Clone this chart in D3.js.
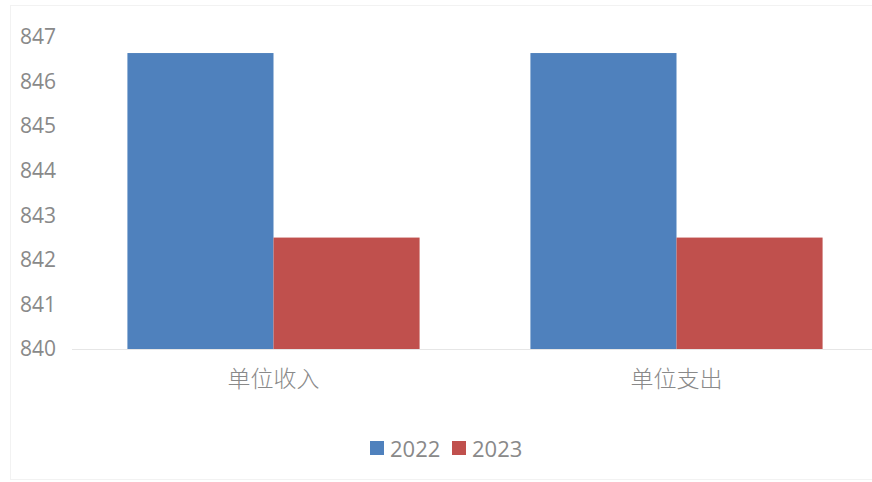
<!DOCTYPE html>
<html>
<head>
<meta charset="utf-8">
<script src="https://cdn.jsdelivr.net/npm/d3@7"></script>
<style>
  body { margin: 0; background: #fff; }
  svg { display: block; }
</style>
</head>
<body>
<div class="graph-container"></div>
<script>
// chart data
const categories = ['单位收入', '单位支出'];
const series = ['2022', '2023'];
const values2022 = [846.64, 846.64];
const values2023 = [842.5, 842.5];
const yTicks = [840, 841, 842, 843, 844, 845, 846, 847];

// graph constants
const w = 872;
const h = 482;
const colors = ['#4F81BD', '#C0504D'];
const textColor = '#898989';
const latin = '"Open Sans", "Noto Sans", sans-serif';
const cjk = '"Noto Sans CJK SC", sans-serif';

const svg = d3.select('div.graph-container')
    .append('svg')
    .attr('width', w)
    .attr('height', h);

// faint chart border
svg.append('rect')
    .attr('x', 10.5)
    .attr('y', 5.5)
    .attr('width', w)
    .attr('height', h - 8)
    .attr('fill', 'none')
    .attr('stroke', '#f2f2f2');

// scales
const yScale = d3.scaleLinear()
    .domain([840, 847])
    .range([349, 37]);

const x0 = d3.scaleBand()
    .domain(categories)
    .range([72, 878])
    .paddingInner(0.275)
    .paddingOuter(0.1375);

const x1 = d3.scaleBand()
    .domain(series)
    .range([0, x0.bandwidth()]);

// y axis labels
const yAxis = d3.axisLeft(yScale)
    .tickValues(yTicks)
    .tickFormat(d3.format('d'))
    .tickSize(0)
    .tickPadding(0);
const yG = svg.append('g')
    .attr('transform', 'translate(56, 0)')
    .call(yAxis);
yG.select('.domain').remove();
yG.selectAll('text')
    .attr('fill', textColor)
    .style('font-family', latin)
    .style('font-size', '21px');

// bars
const rows = categories.map((c, i) => ({ cat: c, vals: [values2022[i], values2023[i]] }));
svg.append('g')
    .selectAll('g')
    .data(rows)
    .enter()
    .append('g')
    .attr('transform', d => `translate(${x0(d.cat)}, 0)`)
    .selectAll('rect')
    .data(d => d.vals.map((v, j) => ({ key: series[j], v })))
    .enter()
    .append('rect')
    .attr('x', d => x1(d.key))
    .attr('y', d => yScale(d.v))
    .attr('width', x1.bandwidth())
    .attr('height', d => yScale(840) - yScale(d.v))
    .attr('fill', (d, j) => colors[j]);

// baseline
svg.append('line')
    .attr('x1', 72)
    .attr('x2', w)
    .attr('y1', yScale(840) + 0.5)
    .attr('y2', yScale(840) + 0.5)
    .attr('stroke', '#e6e6e6');

// x axis labels
const xAxis = d3.axisBottom(x0).tickSize(0).tickPadding(0);
const xG = svg.append('g')
    .attr('transform', `translate(0, ${yScale(840) + 22})`)
    .call(xAxis);
xG.select('.domain').remove();
xG.selectAll('text')
    .attr('fill', textColor)
    .style('font-family', cjk)
    .style('font-weight', 300)
    .style('font-size', '23px');

// legend
const legend = svg.append('g').attr('transform', 'translate(370, 441)');
const lx = [0, 82];
series.forEach((s, i) => {
    legend.append('rect')
        .attr('x', lx[i])
        .attr('y', 0)
        .attr('width', 14)
        .attr('height', 14)
        .attr('fill', colors[i]);
    legend.append('text')
        .attr('x', lx[i] + 20)
        .attr('y', 15.5)
        .attr('fill', textColor)
        .style('font-family', latin)
        .style('font-size', '22px')
        .text(s);
});
</script>
</body>
</html>
